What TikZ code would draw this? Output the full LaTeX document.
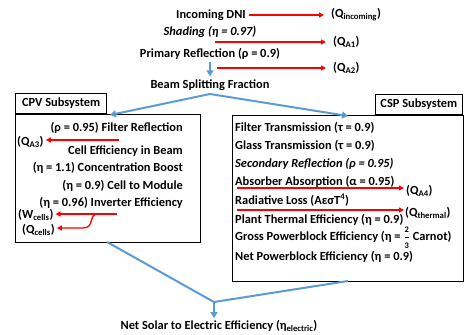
\documentclass[tikz,border=0pt]{standalone}
\usepackage{fontspec}
\usepackage{amsmath}
\setmainfont{Carlito}
\usetikzlibrary{arrows.meta}
\definecolor{arrblue}{HTML}{5B9BD5}
\newcommand\sbs[1]{\textsubscript{#1}}
\newcommand\twothirds{$\genfrac{}{}{0.5pt}{0}{\text{\fontsize{8.5}{9}\selectfont 2}}{\text{\fontsize{8.5}{9}\selectfont 3}}$}
\begin{document}
\begin{tikzpicture}[x=1pt,y=-1pt,
  txt/.style={font=\bfseries\fontsize{12.4}{14}\selectfont, inner sep=0pt},
  boxed/.style={draw=black, line width=1.3pt},
  redarr/.style={draw=red, line width=1.3pt, -{Triangle[length=5pt,width=5pt]}},
  bluearr/.style={draw=arrblue, line width=2pt, -{Triangle[length=6pt,width=7pt]}},
  blueline/.style={draw=arrblue, line width=2pt}]
\useasboundingbox (0,0) rectangle (464,335);
% boxes
\node[boxed, anchor=north west, minimum width=185pt, minimum height=128pt, inner sep=0pt] (cpv) at (15,114) {};
\node[boxed, anchor=north west, minimum width=231pt, minimum height=166pt, inner sep=0pt] (csp) at (232,115) {};
\node[boxed, fill=white, anchor=south west, minimum width=91pt, minimum height=20pt, inner sep=0pt, font=\bfseries\fontsize{12.4}{14}\selectfont] (cpvlab) at (15,114) {CPV Subsystem};
\node[boxed, fill=white, anchor=south east, minimum width=87pt, minimum height=20pt, inner sep=0pt, font=\bfseries\fontsize{12.4}{14}\selectfont] (csplab) at (463,115) {CSP Subsystem};
% top
\node[txt] (dni) at (211,15) {Incoming DNI};
\node[txt, anchor=west] (qin) at (331,15) {(Q\sbs{incoming})};
\node[txt] (shade) at (210,32) {\itshape Shading (η = 0.97)};
\coordinate (a1s) at (215,42);
\node[txt, anchor=west] (qa1) at (333,42) {(Q\sbs{A1})};
\node[txt] (prim) at (210,54) {Primary Reflection (ρ = 0.9)};
\coordinate (a2s) at (217,68);
\node[txt, anchor=west] (qa2) at (333,68) {(Q\sbs{A2})};
\node[txt] (beam) at (210,85) {Beam Splitting Fraction};
\coordinate (apex) at (210,94);
\coordinate (cpvin) at (110,115);
\coordinate (cspin) at (348,116);
\draw[redarr, shorten <=3pt, shorten >=7pt] (dni.east) -- (qin.west);
\draw[redarr, shorten >=7pt] (a1s) -- (a1s -| qa1.west);
\draw[redarr, shorten >=7pt] (a2s) -- (a2s -| qa2.west);
\draw[bluearr, shorten <=2pt, shorten >=3pt] (prim.south) -- (beam.north);
\draw[bluearr] (apex) -- (cpvin);
\draw[bluearr] (apex) -- (cspin);
% CPV text
\node[txt, anchor=east] (fr) at (183,128) {(ρ = 0.95) Filter Reflection};
\node[txt, anchor=west] (qa3) at (17,142) {(Q\sbs{A3})};
\node[txt, anchor=east] (cell) at (183,151) {Cell Efficiency in Beam};
\node[txt, anchor=east] (conc) at (183,168) {(η = 1.1) Concentration Boost};
\node[txt, anchor=east] (mod) at (183,186) {(η = 0.9) Cell to Module};
\node[txt, anchor=east] (inv) at (183,203) {(η = 0.96) Inverter Efficiency};
\node[txt, anchor=west] (wc) at (18,215) {(W\sbs{cells})};
\node[txt, anchor=west] (qc) at (22,230) {(Q\sbs{cells})};
\coordinate (a3s) at (119,140);
\coordinate (wcs) at (117,214);
\coordinate (qcs) at (98,214);
\draw[redarr, shorten >=2pt] (a3s) -- (a3s -| qa3.east);
\draw[redarr, shorten >=2pt] (wcs) -- (wcs -| wc.east);
\draw[redarr, shorten >=2pt] (qcs) .. controls (88,214) and (95,228) .. (83,228) -- (qc.east |- 0,228);
% CSP text
\node[txt, anchor=west] (ft) at (235,128) {Filter Transmission (τ = 0.9)};
\node[txt, anchor=west] (gt) at (235,146) {Glass Transmission (τ = 0.9)};
\node[txt, anchor=west] (sr) at (235,164) {\itshape Secondary Reflection (ρ = 0.95)};
\node[txt, anchor=west] (aa) at (235,182) {Absorber Absorption (α = 0.95)};
\node[txt, anchor=west] (rl) at (235,200) {Radiative Loss (AεσT\textsuperscript{4})};
\node[txt, anchor=west] (pt) at (235,220) {Plant Thermal Efficiency (η = 0.9)};
\node[txt, anchor=west] (gp) at (235,238) {Gross Powerblock Efficiency (η = \twothirds\ Carnot)};
\node[txt, anchor=west] (np) at (235,257) {Net Powerblock Efficiency (η = 0.9)};
\node[txt, anchor=west] (qa4) at (406,191) {(Q\sbs{A4})};
\node[txt, anchor=west] (qth) at (405,213) {(Q\sbs{thermal})};
\coordinate (a4s) at (237,188);
\coordinate (ths) at (237,210);
\draw[redarr, shorten >=2pt] (a4s) -- (a4s -| qa4.west);
\draw[redarr, shorten >=1pt] (ths) -- (ths -| qth.west);
% bottom
\coordinate (cpvout) at (107,242);
\coordinate (cspout) at (348,281);
\coordinate (join) at (214,302);
\node[txt] (net) at (219,326) {Net Solar to Electric Efficiency (η\sbs{electric})};
\draw[blueline, line join=round] (cpvout) -- (join) -- (cspout);
\draw[bluearr, shorten >=2pt] (join) -- (join |- net.north);
\end{tikzpicture}
\end{document}
